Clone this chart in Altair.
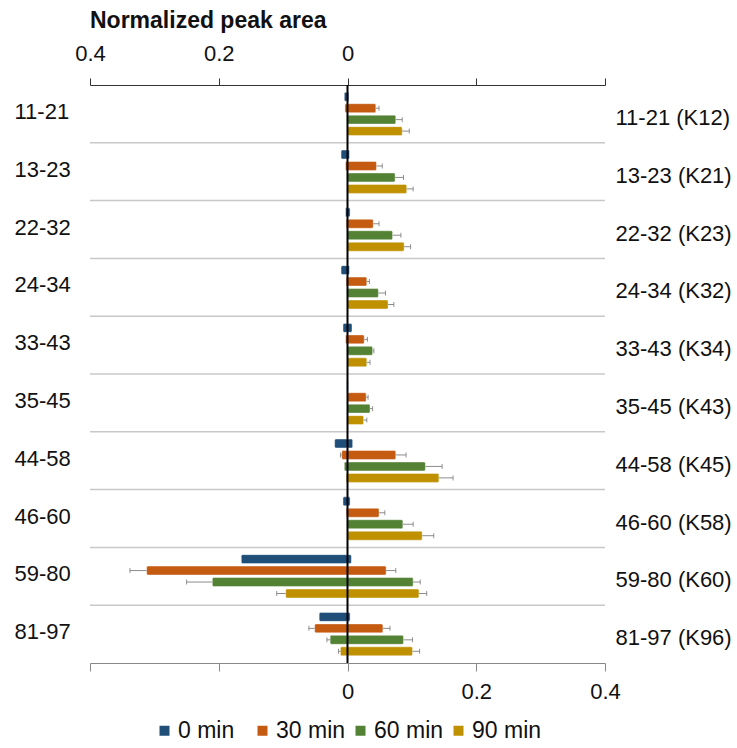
import altair as alt
import pandas as pd

# Peptides (left labels) and their lysine sites (right labels)
peptides = ["11-21", "13-23", "22-32", "24-34", "33-43",
            "35-45", "44-58", "46-60", "59-80", "81-97"]
sites = ["K12", "K21", "K23", "K32", "K34", "K43", "K45", "K58", "K60", "K96"]
times = ["0 min", "30 min", "60 min", "90 min"]
colors = ["#1F4E79", "#C55A11", "#548235", "#BF9000"]

# Positive side: normalized peak area per time point (one list per time)
pos_0 = [0.002, 0.003, 0.004, 0.003, 0.007, 0.001, 0.008, 0.004, 0.006, 0.004]
pos_30 = [0.044, 0.045, 0.040, 0.030, 0.026, 0.029, 0.075, 0.049, 0.060, 0.055]
pos_60 = [0.075, 0.074, 0.070, 0.048, 0.039, 0.035, 0.121, 0.086, 0.102, 0.087]
pos_90 = [0.085, 0.092, 0.088, 0.063, 0.030, 0.025, 0.142, 0.116, 0.111, 0.101]

pos_err_30 = [0.005, 0.009, 0.009, 0.004, 0.005, 0.003, 0.016, 0.009, 0.015, 0.011]
pos_err_60 = [0.010, 0.013, 0.013, 0.011, 0.002, 0.004, 0.026, 0.016, 0.011, 0.014]
pos_err_90 = [0.011, 0.010, 0.010, 0.009, 0.005, 0.005, 0.022, 0.018, 0.012, 0.011]

# Negative side (drawn to the left of zero)
neg_0 = [-0.005, -0.010, -0.003, -0.010, -0.007, -0.001, -0.020, -0.007, -0.165, -0.044]
neg_30 = [-0.004, -0.003, -0.002, -0.002, -0.003, 0.000, -0.009, -0.002, -0.312, -0.051]
neg_60 = [-0.001, -0.001, -0.001, -0.001, -0.001, 0.000, -0.005, -0.001, -0.210, -0.027]
neg_90 = [-0.001, -0.001, -0.001, 0.000, 0.000, 0.000, -0.002, 0.000, -0.096, -0.011]

neg_err_30 = [0, 0, 0, 0, 0, 0, 0.002, 0, 0.026, 0.009]
neg_err_60 = [0, 0, 0, 0, 0, 0, 0, 0, 0.040, 0.005]
neg_err_90 = [0, 0, 0, 0, 0, 0, 0, 0, 0.014, 0.003]

zero_err = [0] * len(peptides)
pos_series = [pos_0, pos_30, pos_60, pos_90]
pos_errs = [zero_err, pos_err_30, pos_err_60, pos_err_90]
neg_series = [neg_0, neg_30, neg_60, neg_90]
neg_errs = [zero_err, neg_err_30, neg_err_60, neg_err_90]

records = []
for j, t in enumerate(times):
    for i, p in enumerate(peptides):
        v, e = pos_series[j][i], pos_errs[j][i]
        records.append({"peptide": p, "time": t, "value": v, "err": e, "end": v + e})
        v, e = neg_series[j][i], neg_errs[j][i]
        records.append({"peptide": p, "time": t, "value": v, "err": e, "end": v - e})
df = pd.DataFrame(records)
err_df = df[df["err"] > 0]

sep_df = pd.DataFrame({"peptide": peptides[1:]})
zero_df = pd.DataFrame({"x": [0.0]})

FONT = "Liberation Sans"
W, H = 515, 578
ticks = [-0.4, -0.2, 0.0, 0.2, 0.4]

xscale = alt.Scale(domain=[-0.4, 0.4], nice=False, zero=False)
yscale = alt.Scale(domain=peptides, paddingInner=0, paddingOuter=0)
off_scale = alt.Scale(domain=times, paddingInner=0.22, paddingOuter=0.63)

x_top = alt.Axis(orient="top", values=ticks, title=None, grid=False,
                 labelExpr="datum.value <= 0 ? format(abs(datum.value), '.1~f') : ''",
                 tickSize=7, labelPadding=13, labelFontSize=22, labelColor="#111",
                 domainColor="#333", tickColor="#333", labelFlush=False,
                 labelOverlap=False)
x_bottom = alt.Axis(orient="bottom", values=ticks, title=None, grid=False,
                    labelExpr="datum.value >= 0 ? format(datum.value, '.1~f') : ''",
                    tickSize=8, labelPadding=10, labelFontSize=22, labelColor="#111",
                    domainColor="#888", tickColor="#888", labelFlush=False,
                    labelOverlap=False)

site_labels = [f"{p} ({s})" for p, s in zip(peptides, sites)]
right_expr = "{}[indexof({}, datum.value)]".format(
    "[" + ",".join(f"'{s}'" for s in site_labels) + "]",
    "[" + ",".join(f"'{p}'" for p in peptides) + "]",
)
y_left = alt.Axis(orient="left", title=None, ticks=False, domain=False,
                  labelAlign="left", labelPadding=76, labelFontSize=22,
                  labelColor="#111", labelOffset=-2)
y_right = alt.Axis(orient="right", title=None, ticks=False, domain=False,
                   labelAlign="left", labelPadding=10, labelFontSize=22,
                   labelColor="#111", labelOffset=4, labelExpr=right_expr)

color = alt.Color("time:N", scale=alt.Scale(domain=times, range=colors),
                  legend=alt.Legend(title=None, orient="none", legendX=63, legendY=634,
                                    direction="horizontal", symbolType="square",
                                    symbolSize=100, symbolStrokeWidth=0,
                                    labelFontSize=23, labelColor="#111",
                                    labelOffset=2, columnPadding=3, gridAlign="all"))

separators = alt.Chart(sep_df).mark_rule(color="#c8c8c8", strokeWidth=1.5).encode(
    y=alt.Y("peptide:N", bandPosition=0, scale=yscale, axis=y_right, sort=None)
)

bars = alt.Chart(df).mark_bar(stroke="#ffffff", strokeWidth=0.6, strokeOpacity=0.7,
                              cornerRadius=1.5).encode(
    x=alt.X("value:Q", scale=xscale, axis=x_top),
    x2=alt.datum(0),
    y=alt.Y("peptide:N", scale=yscale, axis=y_left, sort=None),
    yOffset=alt.YOffset("time:N", scale=off_scale, sort=None),
    color=color,
)

whiskers = alt.Chart(err_df).mark_rule(color="#8c8c8c", strokeWidth=1).encode(
    x=alt.X("value:Q", scale=xscale, axis=None),
    x2="end:Q",
    y=alt.Y("peptide:N", scale=yscale, sort=None, axis=None),
    yOffset=alt.YOffset("time:N", scale=off_scale, sort=None),
)

caps = alt.Chart(err_df).mark_tick(color="#666666", thickness=1, size=5).encode(
    x=alt.X("end:Q", scale=xscale, axis=None),
    y=alt.Y("peptide:N", scale=yscale, sort=None, axis=None),
    yOffset=alt.YOffset("time:N", scale=off_scale, sort=None),
)

zero_line = alt.Chart(zero_df).mark_rule(color="#000000", strokeWidth=2).encode(
    x=alt.X("x:Q", scale=xscale, axis=x_bottom)
)

chart = alt.layer(separators, bars, whiskers, caps, zero_line).resolve_axis(
    x="independent", y="independent"
).properties(
    width=W,
    height=H,
    padding={"left": 90, "top": 85, "right": 132, "bottom": 85},
    autosize=alt.AutoSizeParams(type="none"),
    title=alt.TitleParams("Normalized peak area", anchor="start", frame="group",
                          fontSize=23, fontWeight="bold", font=FONT, color="#111",
                          offset=9),
).configure(font=FONT).configure_view(stroke=None).configure_axis(
    labelFont=FONT
).configure_legend(labelFont=FONT)

chart.save("out.html", embed_options={"renderer": "svg", "actions": False})
